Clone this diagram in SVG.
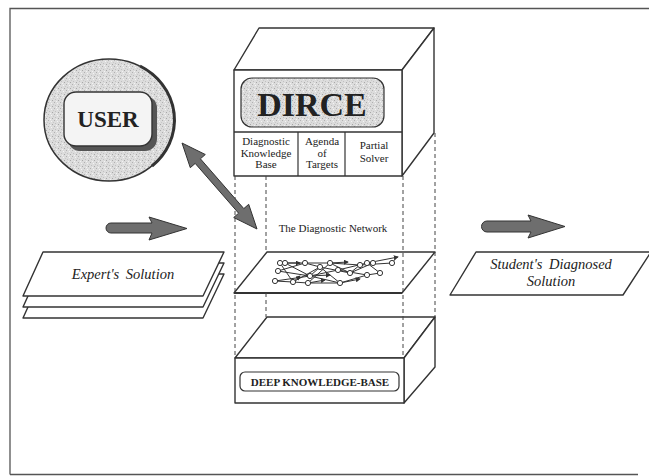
<svg xmlns="http://www.w3.org/2000/svg" width="649" height="476" viewBox="0 0 649 476">
<defs>
<pattern id="tex" width="6" height="6" patternUnits="userSpaceOnUse">
<rect width="6" height="6" fill="#dcdcdc"/>
<rect x="0" y="0" width="1" height="1" fill="#b0b0b0"/>
<rect x="3" y="1" width="1" height="1" fill="#f4f4f4"/>
<rect x="1" y="3" width="1" height="1" fill="#c0c0c0"/>
<rect x="4" y="4" width="1" height="1" fill="#a8a8a8"/>
<rect x="2" y="5" width="1" height="1" fill="#f2f2f2"/>
<rect x="5" y="2" width="1" height="1" fill="#c8c8c8"/>
</pattern>
<marker id="ah" viewBox="0 0 6 6" refX="5" refY="3" markerWidth="5" markerHeight="5" orient="auto">
<path d="M0,0 L6,3 L0,6 z" fill="#333"/>
</marker>
</defs>
<style>
.ln{fill:#fff;stroke:#333;stroke-width:1.4;stroke-linejoin:round}
.dash{stroke:#444;stroke-width:1;stroke-dasharray:4,3;fill:none}
text{fill:#222}
.arrow{fill:#6e6e6e;stroke:#333;stroke-width:1}
.nd{fill:#fff;stroke:#333;stroke-width:1}
.ed{stroke:#333;stroke-width:1;fill:none}
</style>
<rect width="649" height="476" fill="#fff"/>
<path d="M10,474.5 L10,8.5 L649,8.5 M10,474.5 L638,474.5" fill="none" stroke="#555" stroke-width="1.3"/>

<g id="user">
<ellipse cx="109" cy="120" rx="65" ry="61" fill="url(#tex)" stroke="#333" stroke-width="1.5"/>
<path d="M140,66 A65,61 0 0 1 152,166" fill="none" stroke="#333" stroke-width="3"/>
<rect x="68" y="96" width="89" height="55" rx="12" fill="#555"/>
<rect x="64" y="92" width="88" height="54" rx="12" fill="#f4f4f4" stroke="#333" stroke-width="1.4"/>
<text x="108" y="127" text-anchor="middle" font-size="23" font-weight="bold" font-family="'Liberation Serif', 'DejaVu Serif', serif">USER</text>
</g>

<g id="dirce">
<polygon class="ln" points="234,70 259,28 434,28 402,70"/>
<polygon class="ln" points="402,70 434,28 434,133 402,176"/>
<rect class="ln" x="234" y="70" width="168" height="106"/>
<rect x="241" y="78" width="143" height="49" rx="11" fill="url(#tex)" stroke="#333" stroke-width="1.2"/>
<text x="312" y="116" text-anchor="middle" font-size="34" font-weight="bold" font-family="'Liberation Serif', 'DejaVu Serif', serif">DIRCE</text>
<line x1="234" y1="132" x2="402" y2="132" stroke="#333" stroke-width="1.4"/>
<line x1="298" y1="132" x2="298" y2="176" stroke="#333" stroke-width="1.2"/>
<line x1="345" y1="132" x2="345" y2="176" stroke="#333" stroke-width="1.2"/>
</g>
<g id="dkb" font-family="'Liberation Serif', 'DejaVu Serif', serif" font-size="11" text-anchor="middle">
<text x="266" y="145">Diagnostic</text>
<text x="266" y="157">Knowledge</text>
<text x="266" y="168">Base</text>
</g>
<g id="agenda" font-family="'Liberation Serif', 'DejaVu Serif', serif" font-size="11" text-anchor="middle">
<text x="322" y="145">Agenda</text>
<text x="322" y="157">of</text>
<text x="322" y="168">Targets</text>
</g>
<g id="solver" font-family="'Liberation Serif', 'DejaVu Serif', serif" font-size="11" text-anchor="middle">
<text x="374" y="149">Partial</text>
<text x="374" y="162">Solver</text>
</g>

<g id="network">
<line class="dash" x1="266" y1="176" x2="266" y2="252"/>
<polygon class="ln" points="267,252 435,252 402,293 234,293"/>
<line x1="234" y1="293" x2="402" y2="293" stroke="#333" stroke-width="2"/>
<text x="333" y="232" text-anchor="middle" font-size="11" font-family="'Liberation Serif', 'DejaVu Serif', serif">The Diagnostic Network</text>
<g>
<path class="ed" d="M280,263 L305,263 L330,263 L360,265 L392,263 L397,257"/>
<path class="ed" d="M278,271 L310,276 L338,270 L367,275 L380,273"/>
<path class="ed" d="M275,281 L293,282 L308,283 L340,283 L367,275"/>
<path class="ed" d="M280,263 L293,282 M285,263 L310,276 L320,267 L350,273 L373,263"/>
<path class="ed" d="M278,271 L305,263 L320,267 L340,283 M308,283 L330,263 L350,273 L360,265 M338,270 L367,263 L380,273"/>
<path class="ed" d="M293,282 L320,267 M310,276 L340,283 M275,281 L310,276"/>
<path class="ed" marker-end="url(#ah)" d="M367,263 L398,257"/>
<path class="ed" marker-end="url(#ah)" d="M285,263 L300,263"/>
<path class="ed" marker-end="url(#ah)" d="M310,276 L330,275"/>
<path class="ed" marker-end="url(#ah)" d="M308,283 L325,280"/>
<path class="ed" marker-end="url(#ah)" d="M340,283 L360,279"/>
<path class="ed" marker-end="url(#ah)" d="M330,263 L348,262"/>
<path class="ed" marker-end="url(#ah)" d="M293,282 L300,276"/>
<circle class="nd" cx="280" cy="263" r="2.6"/>
<circle class="nd" cx="285" cy="263" r="2.6"/>
<circle class="nd" cx="278" cy="271" r="2.6"/>
<circle class="nd" cx="275" cy="281" r="2.6"/>
<circle class="nd" cx="293" cy="282" r="2.6"/>
<circle class="nd" cx="308" cy="283" r="2.6"/>
<circle class="nd" cx="310" cy="276" r="2.6"/>
<circle class="nd" cx="320" cy="267" r="2.6"/>
<circle class="nd" cx="338" cy="270" r="2.6"/>
<circle class="nd" cx="340" cy="283" r="2.6"/>
<circle class="nd" cx="350" cy="273" r="2.6"/>
<circle class="nd" cx="360" cy="265" r="2.6"/>
<circle class="nd" cx="367" cy="263" r="2.6"/>
<circle class="nd" cx="373" cy="263" r="2.6"/>
<circle class="nd" cx="367" cy="275" r="2.6"/>
<circle class="nd" cx="380" cy="273" r="2.6"/>
<circle class="nd" cx="392" cy="263" r="2.6"/>
<circle class="nd" cx="305" cy="263" r="2.6"/>
<circle class="nd" cx="330" cy="263" r="2.6"/>
</g>
</g>

<g id="deepkb">
<polygon class="ln" points="235,358 267,317 435,317 404,358"/>
<polygon class="ln" points="404,358 435,317 435,367 404,403"/>
<rect class="ln" x="235" y="358" width="169" height="45"/>
<rect x="240" y="372" width="159" height="19" rx="5" fill="#fff" stroke="#333" stroke-width="1.2"/>
<text x="320" y="386" text-anchor="middle" font-size="11" font-weight="bold" font-family="'Liberation Serif', 'DejaVu Serif', serif">DEEP KNOWLEDGE-BASE</text>
</g>

<g id="expert">
<polygon class="ln" points="43,274 224,274 203,318 23,318"/>
<polygon class="ln" points="43,263 224,263 203,307 23,307"/>
<polygon class="ln" points="43,252 224,252 203,296 23,296"/>
<text x="123" y="279" text-anchor="middle" font-size="14.5" word-spacing="3" font-style="italic" font-family="'Liberation Serif', 'DejaVu Serif', serif">Expert's Solution</text>
</g>

<g id="student" font-family="'Liberation Serif', 'DejaVu Serif', serif" font-style="italic" font-size="14.5" text-anchor="middle">
<polygon class="ln" points="476,252 651,252 623,295 450,295"/>
<text x="551" y="269" word-spacing="3">Student's Diagnosed</text>
<text x="551" y="286">Solution</text>
</g>

<g id="connectors">
<line class="dash" x1="235" y1="176" x2="235" y2="358"/>
<line class="dash" x1="403" y1="176" x2="403" y2="358"/>
<line class="dash" x1="435" y1="133" x2="435" y2="317"/>
<line class="dash" x1="266" y1="293" x2="266" y2="317"/>
<path class="arrow" d="M111,223 L152,223 L149,217 L187,228.5 L149,240 L152,233 L111,233 A5,5 0 0 1 111,223 Z"/>
<path class="arrow" d="M487,221 L531,221 L528,215 L565,226.5 L528,238 L531,232 L487,232 A5.5,5.5 0 0 1 487,221 Z"/>
<polygon class="arrow" points="182,143 190.3,167.7 195.2,163.4 238.6,213.2 233.7,217.5 257,229 248.7,204.3 243.8,208.6 200.4,158.8 205.3,154.5"/>
</g>
</svg>
